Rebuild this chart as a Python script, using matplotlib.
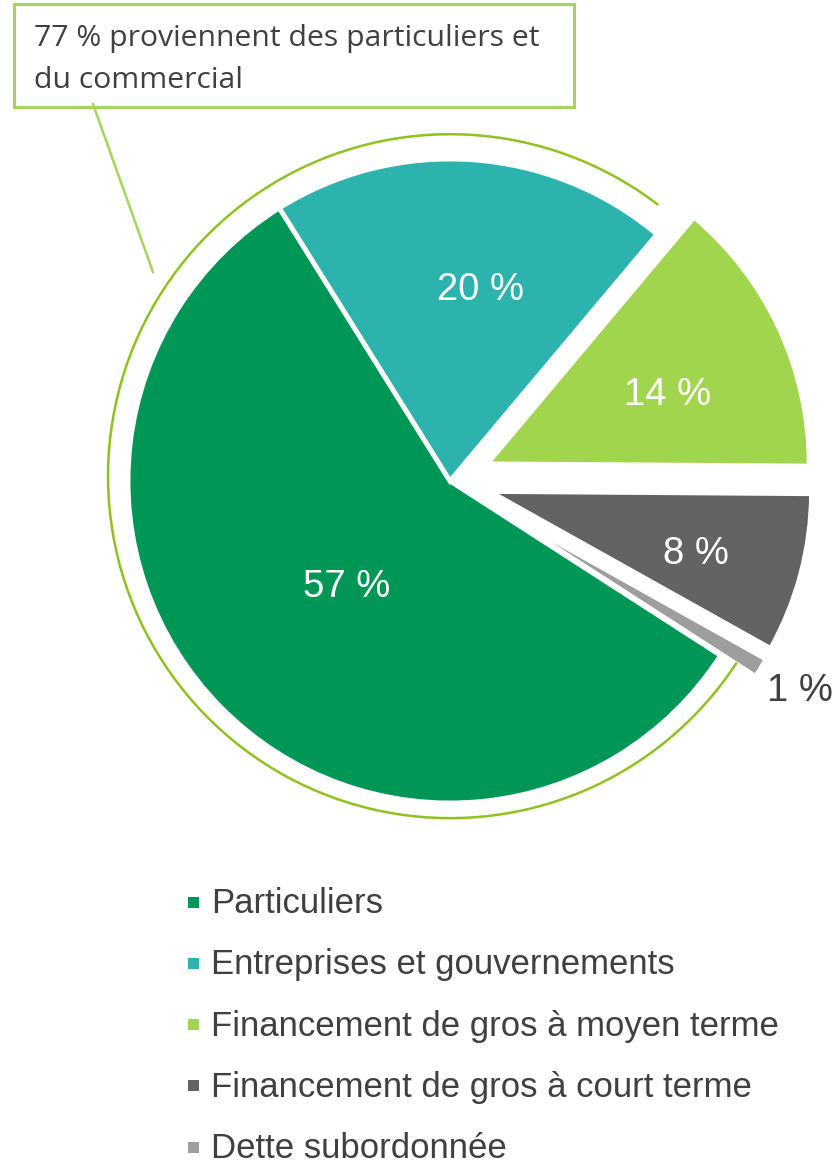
import numpy as np
import matplotlib.pyplot as plt
from matplotlib.patches import Arc, Rectangle
from matplotlib.lines import Line2D

categories = ["Particuliers", "Entreprises et gouvernements",
              "Financement de gros à moyen terme",
              "Financement de gros à court terme", "Dette subordonnée"]
shares = [57, 20, 14, 8, 1]
pct_labels = ["57 %", "20 %", "14 %", "8 %", "1 %"]
colors = ["#009756", "#2DB3AE", "#A2D54E", "#636363", "#9E9E9E"]
explode = [0, 0, 0.127, 0.127, 0.127]
note_lines = ["77 % proviennent des particuliers et", "du commercial"]

W, H = 838, 1166
CX, CY, R = 450, 481, 322


def px(x, y):
    # pixel (from top-left) -> data coords, radius = 1
    return (x - CX) / R, (CY - y) / R


fig = plt.figure(figsize=(W / 100, H / 100), dpi=100)
ax = fig.add_axes([0, 0, 1, 1])
wedges, _ = ax.pie(shares, colors=colors, explode=explode, startangle=-32.8,
                   counterclock=False, radius=1,
                   wedgeprops=dict(edgecolor="white", linewidth=3.5))
ax.set_xlim(-CX / R, (W - CX) / R)
ax.set_ylim(-(H - CY) / R, CY / R)
ax.set_aspect("equal")
ax.axis("off")

# label placement (radial fraction, angle shift)
lab_r = [0.46, 0.60, 0.60, 0.67, 1.14]
lab_da = [1, -5, -4, -2, 0]
lab_col = ["white", "white", "white", "white", "#404040"]
for w, t, r, da, c in zip(wedges, pct_labels, lab_r, lab_da, lab_col):
    mid = np.deg2rad((w.theta1 + w.theta2) / 2 + da)
    cx, cy = w.center
    ax.text(cx + r * np.cos(mid), cy + r * np.sin(mid), t, color=c,
            fontsize=27.5, family="Liberation Sans", ha="center", va="center")

# outer ring around particuliers + entreprises
ax.add_patch(Arc((0, 0.015), 2 * 1.062, 2 * 1.062, theta1=52.5, theta2=327,
                 color="#8EC31F", lw=1.8))

# callout box
x0, y0 = px(14, 107)
x1, y1 = px(574, 4)
ax.add_patch(Rectangle((x0, y0), x1 - x0, y1 - y0, fill=False,
                       edgecolor="#A5D55A", lw=2.2))
ax.add_line(Line2D(*zip(px(93, 104), px(153, 272)), color="#A5D55A", lw=1.8))
for i, line in enumerate(note_lines):
    tx, ty = px(34, 46 + i * 42)
    ax.text(tx, ty, line, fontsize=21.7, family="Open Sans", color="#404040",
            ha="left", va="baseline")

# legend
for i, (lab, c) in enumerate(zip(categories, colors)):
    yc = 902 + i * 61.3
    sx, sy = px(188, yc + 5.5)
    ax.add_patch(Rectangle((sx, sy), 11 / R, 11 / R, color=c, lw=0))
    lx, ly = px(211, yc + 11)
    ax.text(lx, ly, lab, fontsize=25, family="Liberation Sans",
            color="#404040", ha="left", va="baseline")

fig.savefig("out.png", dpi=100)
